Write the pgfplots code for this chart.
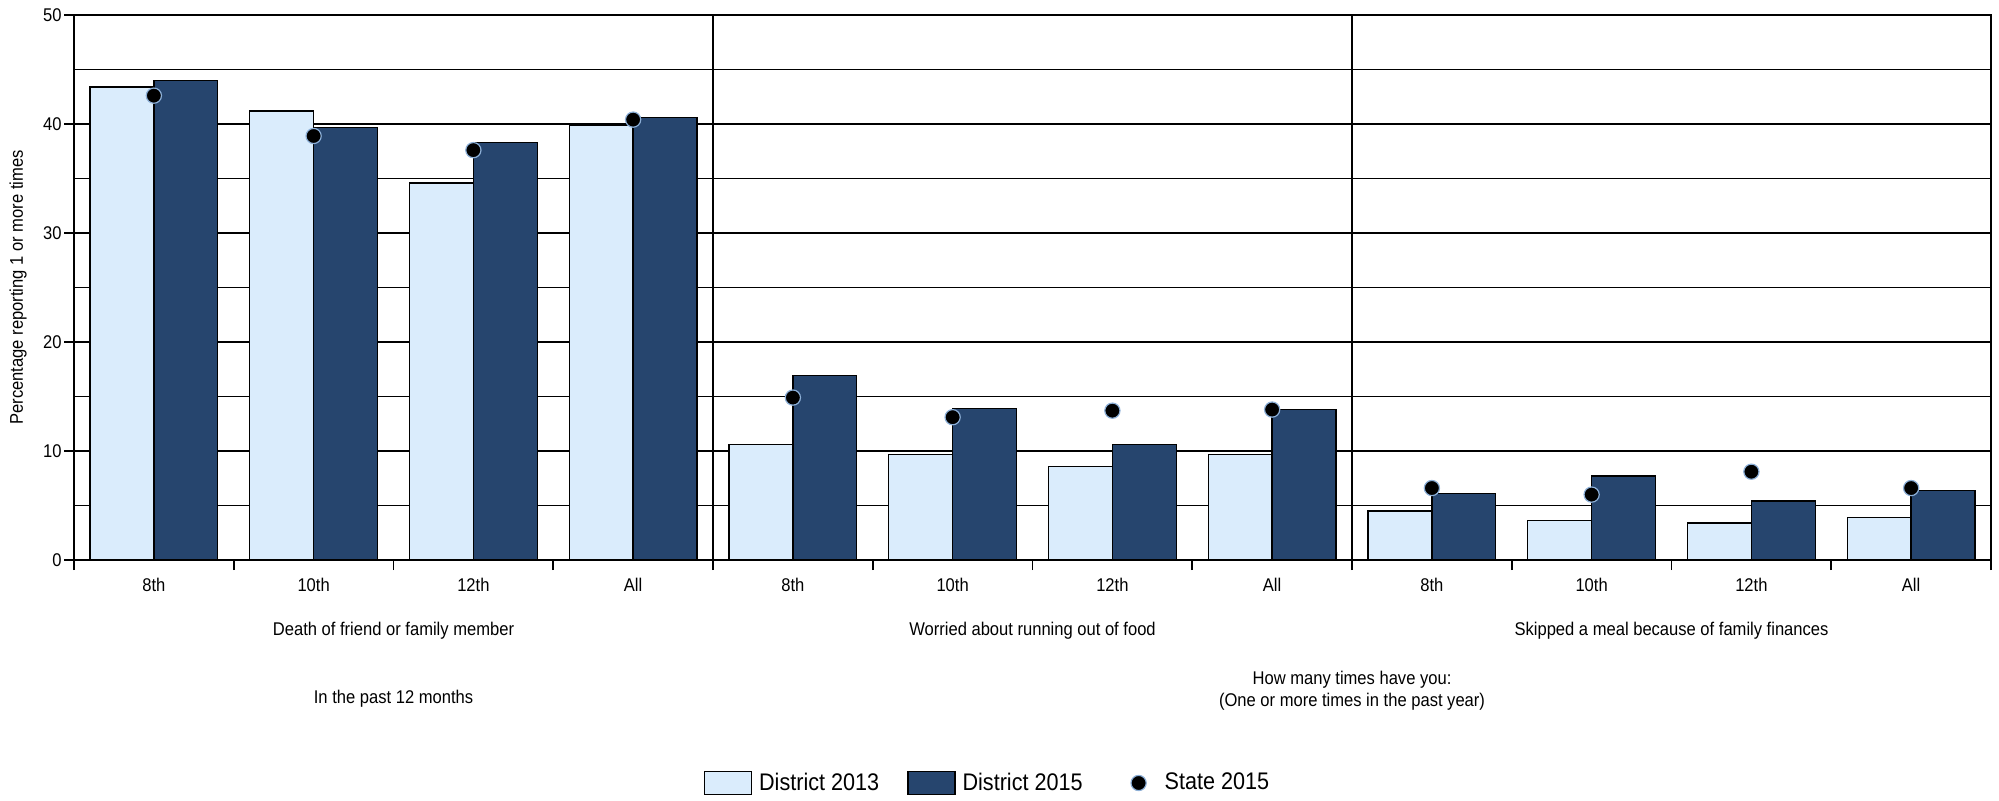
\documentclass[border=0pt]{standalone}
\usepackage{fontspec}
\setmainfont[FakeStretch=0.9]{Liberation Sans}
\usepackage{pgfplots}
\usepackage{pgfplotstable}
\pgfplotsset{compat=1.18}
\definecolor{lightbar}{RGB}{218,236,252}
\definecolor{darkbar}{RGB}{38,69,110}
\definecolor{edgeblue}{RGB}{140,175,215}

\pgfplotstableread{
i d13 d15 st
0 43.4 44.0 42.6
1 41.2 39.7 38.9
2 34.6 38.3 37.6
3 39.9 40.6 40.4
4 10.6 16.9 14.9
5 9.7 13.9 13.1
6 8.6 10.6 13.7
7 9.7 13.8 13.8
8 4.5 6.1 6.6
9 3.6 7.7 6.0
10 3.4 5.4 8.1
11 3.9 6.4 6.6
}\data

\newcommand{\lblfont}{\fontsize{9.2}{11}\selectfont}

\begin{document}
\begin{tikzpicture}
\begin{axis}[
 scale only axis, width=958.5pt, height=272.5pt,
 xmin=0, xmax=12, ymin=0, ymax=50,
 clip=false,
 axis line style={line width=0.9pt},
 tick pos=left,
 xtick={0,...,12}, xticklabels={},
 extra x ticks={0.5,1.5,...,11.5},
 extra x tick labels={8th,10th,12th,All,8th,10th,12th,All,8th,10th,12th,All},
 extra x tick style={tick style={draw=none}, grid=none},
 ytick={0,10,...,50},
 minor ytick={5,15,...,45},
 ymajorgrids, yminorgrids,
 major grid style={black, line width=0.8pt},
 minor grid style={black, line width=0.8pt},
 tick align=outside, major tick length=5pt,
 tick style={black, line width=0.8pt},
 minor y tick style={draw=none},
 /pgf/number format/assume math mode=true,
 ticklabel style={font=\lblfont},
 yticklabel style={inner sep=1pt},
 xticklabel style={inner sep=2pt, yshift=-2pt},
 legend style={at={(rel axis cs:0.477,0)}, yshift=-111.5pt, anchor=center,
   draw=none, fill=none, legend columns=3, font=\fontsize{12}{14}\selectfont,
   /tikz/every even column/.append style={column sep=12pt},
   /tikz/every odd column/.append style={column sep=1.5pt},
   legend cell align=left},
]
\addplot[ybar, bar width=0.4, bar shift=0pt, fill=lightbar, draw=black, line width=0.7pt,
  legend image code/.code={\draw[fill=lightbar, draw=black, line width=0.7pt] (0pt,-5.8pt) rectangle (23.5pt,5.8pt);}]
  table[x expr=\thisrow{i}+0.3, y=d13]{\data};
\addlegendentry{District 2013}
\addplot[ybar, bar width=0.4, bar shift=0pt, fill=darkbar, draw=black, line width=0.7pt,
  legend image code/.code={\draw[fill=darkbar, draw=black, line width=0.7pt] (0pt,-5.8pt) rectangle (23.5pt,5.8pt);}]
  table[x expr=\thisrow{i}+0.7, y=d15]{\data};
\addlegendentry{District 2015}
\addplot[only marks, mark=*, mark size=3.8pt, mark options={fill=black, draw=edgeblue, line width=0.6pt},
  legend image code/.code={\path[draw=none, fill=none] (0pt,-5.8pt) rectangle (23.5pt,5.8pt); \draw[fill=black, draw=edgeblue, line width=0.6pt] (14pt,0pt) circle (3.8pt);}]
  table[x expr=\thisrow{i}+0.5, y=st]{\data};
\addlegendentry{State 2015}

\draw[line width=0.9pt] (axis cs:4,0) -- (axis cs:4,50);
\draw[line width=0.9pt] (axis cs:8,0) -- (axis cs:8,50);

\node[font=\lblfont] at ([yshift=-35.2pt]axis cs:2,0) {Death of friend or family member};
\node[font=\lblfont] at ([yshift=-35.2pt]axis cs:6,0) {Worried about running out of food};
\node[font=\lblfont] at ([yshift=-35.2pt]axis cs:10,0) {Skipped a meal because of family finances};
\node[font=\lblfont] at ([yshift=-69.2pt]axis cs:2,0) {In the past 12 months};
\node[font=\lblfont] at ([yshift=-59.7pt]axis cs:8,0) {How many times have you:};
\node[font=\lblfont] at ([yshift=-70.7pt]axis cs:8,0) {(One or more times in the past year)};
\node[font=\lblfont, rotate=90] at ([xshift=-28pt]rel axis cs:0,0.5) {Percentage reporting 1 or more times};
\end{axis}
\pgfresetboundingbox
\useasboundingbox ([xshift=-37pt,yshift=-120.5pt]current axis.south west) rectangle ([xshift=4pt,yshift=7.5pt]current axis.north east);
\end{tikzpicture}
\end{document}
